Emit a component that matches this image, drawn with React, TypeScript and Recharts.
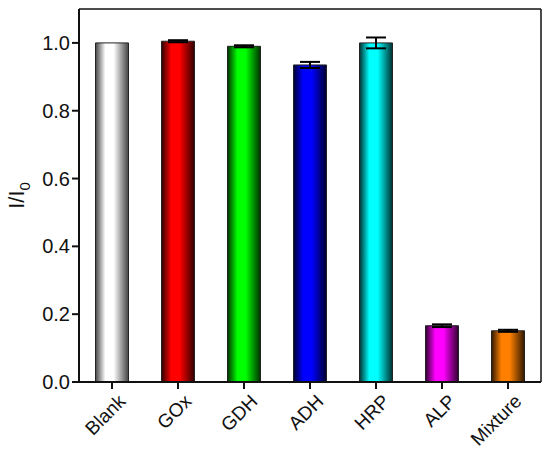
import React from 'react';
import { BarChart, Bar, XAxis, YAxis, Cell, ErrorBar } from 'recharts';

const categories = ['Blank', 'GOx', 'GDH', 'ADH', 'HRP', 'ALP', 'Mixture'];
const values = [1.0, 1.005, 0.99, 0.935, 1.0, 0.166, 0.151];
const errors = [0, 0.003, 0.003, 0.009, 0.016, 0.004, 0.003];
const colors = ['#ffffff', '#ff0000', '#00ff00', '#0000ff', '#00ffff', '#ff00ff', '#ff8000'];
const darks = ['#444444', '#300000', '#003000', '#000030', '#003030', '#300030', '#301800'];
const yTicks = [0, 0.2, 0.4, 0.6, 0.8, 1.0];

const data = categories.map((c, i) => ({ name: c, value: values[i], err: errors[i] }));

const font = 'Liberation Sans, Arial, sans-serif';

const YLabel = (props: any) => {
  const vb = props.viewBox || {};
  const cx = 24;
  const cy = (vb.y ?? 9) + (vb.height ?? 373) / 2;
  return (
    <text transform={`translate(${cx},${cy}) rotate(-90)`} textAnchor="middle" fontFamily={font} fontSize={22} fill="#111">
      I/I<tspan fontSize={15} dy={6}>0</tspan>
    </text>
  );
};

const XTick = (props: any) => {
  const { x, y, payload } = props;
  return (
    <text transform={`translate(${x + 5},${y + 2}) rotate(-45)`} textAnchor="end" dominantBaseline="hanging" fontFamily={font} fontSize={19} fill="#111">
      {payload.value}
    </text>
  );
};

export default function App() {
  return (
    <div style={{ position: 'absolute', left: 0, top: 0, width: 550, height: 450, background: '#fff' }}>
      <BarChart width={550} height={450} data={data} margin={{ top: 0, right: 0, bottom: 0, left: 0 }} barCategoryGap="25%">
        <defs>
          {colors.map((c, i) => (
            <linearGradient key={i} id={`g${i}`} x1="0" y1="0" x2="1" y2="0">
              <stop offset="0%" stopColor={darks[i]} />
              <stop offset="30%" stopColor={c} />
              <stop offset="55%" stopColor={c} />
              <stop offset="100%" stopColor={darks[i]} />
            </linearGradient>
          ))}
        </defs>
        <XAxis dataKey="name" stroke="#111" strokeWidth={2} tickSize={7} tick={<XTick />} interval={0} tickLine={{ stroke: '#111', strokeWidth: 2 }} height={68} />
        <XAxis xAxisId="top" orientation="top" dataKey="name" tick={false} tickLine={false} stroke="#111" strokeWidth={1.5} height={9} />
        <YAxis domain={[0, 1.1]} ticks={yTicks} stroke="#111" strokeWidth={2} tickSize={7} width={79}
          tickFormatter={(v: number) => v.toFixed(1)}
          tick={{ fontFamily: font, fontSize: 20, fill: '#111' }}
          tickLine={{ stroke: '#111', strokeWidth: 2 }}
          label={<YLabel />} />
        <YAxis yAxisId="right" orientation="right" domain={[0, 1.1]} tick={false} tickLine={false} stroke="#111" strokeWidth={1.5} width={9} />
        <Bar dataKey="value" isAnimationActive={false} stroke="#222" strokeWidth={1}>
          {data.map((d, i) => (
            <Cell key={i} fill={`url(#g${i})`} />
          ))}
          <ErrorBar dataKey="err" width={10} stroke="#000" strokeWidth={2} direction="y" />
        </Bar>
      </BarChart>
    </div>
  );
}
